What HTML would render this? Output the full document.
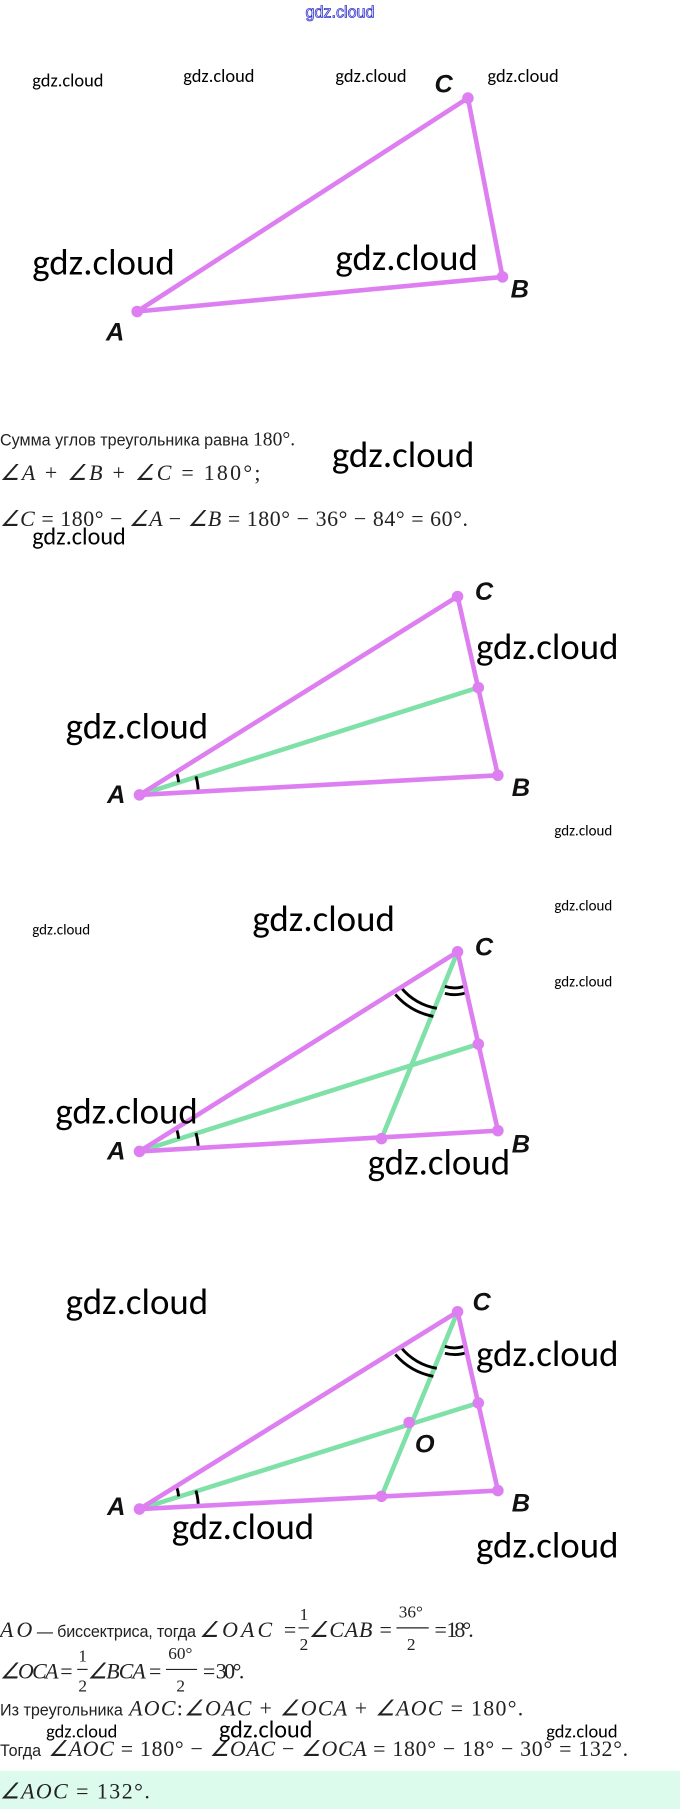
<!DOCTYPE html>
<html><head><meta charset="utf-8"><style>
html,body{margin:0;padding:0;background:#fff}
svg{display:block}
.w{font-family:"Carlito","Liberation Sans",sans-serif;fill:#000}
.m{font-family:"Liberation Serif",serif;font-style:italic;fill:#222}
.r{font-family:"Liberation Serif",serif;font-style:normal;fill:#222}
.t{font-family:"Liberation Sans",sans-serif;font-style:normal;fill:#222}
.L{font-family:"Liberation Sans",sans-serif;font-style:italic;font-weight:bold;fill:#111}
</style></head><body>
<svg width="680" height="1809" viewBox="0 0 590 1568" preserveAspectRatio="none" xmlns="http://www.w3.org/2000/svg">
<text x="295" y="15" text-anchor="middle" font-family="Liberation Sans,sans-serif" font-size="14" fill="none" stroke="#3333cc" stroke-width="0.7">gdz.cloud</text>
<g class="w" font-size="16">
<text x="28" y="75">gdz.cloud</text><text x="159" y="71">gdz.cloud</text><text x="291" y="71">gdz.cloud</text><text x="423" y="71">gdz.cloud</text>
</g>
<!-- triangle 1 -->
<g stroke="#dd7ff0" stroke-width="4" fill="none" stroke-linecap="round"><path d="M119 270 L406 85 L436 240 Z"/></g>
<g fill="#dd7ff0"><circle cx="119" cy="270" r="5"/><circle cx="406" cy="85" r="5"/><circle cx="436" cy="240" r="5"/></g>
<g class="L" font-size="22"><text x="377" y="80">C</text><text x="443" y="258">B</text><text x="92" y="295">A</text></g>
<g class="w" font-size="32"><text x="28" y="238">gdz.cloud</text><text x="291" y="234">gdz.cloud</text></g>
<!-- text 1 -->
<text class="t" x="0" y="386" font-size="14">Сумма углов треугольника равна <tspan class="r" font-size="17">180°.</tspan></text>
<text class="w" x="288" y="405" font-size="32">gdz.cloud</text>
<text class="m" x="0" y="416" font-size="19" textLength="226">∠A <tspan class="r">+</tspan> ∠B <tspan class="r">+</tspan> ∠C <tspan class="r">= 180°;</tspan></text>
<text class="m" x="0" y="456" font-size="19" textLength="406">∠C <tspan class="r">= 180° −</tspan> ∠A <tspan class="r">−</tspan> ∠B <tspan class="r">= 180° − 36° − 84° = 60°.</tspan></text>
<text class="w" x="28" y="472" font-size="21">gdz.cloud</text>
<!-- triangle 2 -->
<g stroke="#7fe0a8" stroke-width="4" fill="none"><path d="M121 689 L415 596"/></g>
<g stroke="#000" stroke-width="2.5" fill="none"><path d="M153 669 A35 35 0 0 1 155 678"/><path d="M170 673 A50 50 0 0 1 172 688"/></g>
<g stroke="#dd7ff0" stroke-width="4" fill="none" stroke-linecap="round"><path d="M121 689 L397 517 L432 672 Z"/></g>
<g fill="#dd7ff0"><circle cx="121" cy="689" r="5"/><circle cx="397" cy="517" r="5"/><circle cx="432" cy="672" r="5"/><circle cx="415" cy="596" r="5"/></g>
<g class="L" font-size="22"><text x="412" y="520">C</text><text x="444" y="690">B</text><text x="93" y="696">A</text></g>
<g class="w"><text x="413" y="571" font-size="32">gdz.cloud</text><text x="57" y="640" font-size="32">gdz.cloud</text><text x="481" y="724" font-size="13">gdz.cloud</text></g>
<!-- triangle 3 -->
<g stroke="#7fe0a8" stroke-width="4" fill="none"><path d="M121 998 L415 905"/><path d="M397 825 L331 987"/></g>
<g stroke="#000" stroke-width="2.5" fill="none"><path d="M153 978 A35 35 0 0 1 155 987"/><path d="M170 982 A50 50 0 0 1 172 997"/>
<path d="M348 856 A50 50 0 0 0 379 874"/><path d="M343 862 A58 58 0 0 0 376 881"/>
<path d="M386 855 A27 27 0 0 0 405 854"/><path d="M386 861 A33 33 0 0 0 406 860"/></g>
<g stroke="#dd7ff0" stroke-width="4" fill="none" stroke-linecap="round"><path d="M121 998 L397 825 L432 980 Z"/></g>
<g fill="#dd7ff0"><circle cx="121" cy="998" r="5"/><circle cx="397" cy="825" r="5"/><circle cx="432" cy="980" r="5"/><circle cx="415" cy="905" r="5"/><circle cx="331" cy="987" r="5"/></g>
<g class="L" font-size="22"><text x="412" y="828">C</text><text x="444" y="999">B</text><text x="93" y="1005">A</text></g>
<g class="w"><text x="28" y="810" font-size="13">gdz.cloud</text><text x="219" y="807" font-size="32">gdz.cloud</text><text x="481" y="789" font-size="13">gdz.cloud</text><text x="481" y="855" font-size="13">gdz.cloud</text><text x="48" y="974" font-size="32">gdz.cloud</text><text x="319" y="1018" font-size="32">gdz.cloud</text></g>
<!-- triangle 4 -->
<g stroke="#7fe0a8" stroke-width="4" fill="none"><path d="M121 1308 L415 1216"/><path d="M397 1137 L331 1297"/></g>
<g stroke="#000" stroke-width="2.5" fill="none"><path d="M153 1288 A35 35 0 0 1 155 1297"/><path d="M170 1292 A50 50 0 0 1 172 1307"/>
<path d="M348 1168 A50 50 0 0 0 379 1186"/><path d="M343 1174 A58 58 0 0 0 376 1193"/>
<path d="M386 1167 A27 27 0 0 0 405 1166"/><path d="M386 1173 A33 33 0 0 0 406 1172"/></g>
<g stroke="#dd7ff0" stroke-width="4" fill="none" stroke-linecap="round"><path d="M121 1308 L397 1137 L432 1292 Z"/></g>
<g fill="#dd7ff0"><circle cx="121" cy="1308" r="5"/><circle cx="397" cy="1137" r="5"/><circle cx="432" cy="1292" r="5"/><circle cx="415" cy="1216" r="5"/><circle cx="331" cy="1297" r="5"/><circle cx="355" cy="1233" r="5"/></g>
<g class="L" font-size="22"><text x="410" y="1136">C</text><text x="360" y="1259">O</text><text x="444" y="1310">B</text><text x="93" y="1313">A</text></g>
<g class="w" font-size="32"><text x="57" y="1139">gdz.cloud</text><text x="413" y="1184">gdz.cloud</text><text x="149" y="1334">gdz.cloud</text><text x="413" y="1350">gdz.cloud</text></g>
<!-- text 2 -->
<g font-size="19">
<text class="m" x="0" y="1419" textLength="28">AO</text>
<text class="t" x="32" y="1419" font-size="14" textLength="138">— биссектриса, тогда</text>
<text class="m" x="173" y="1419" textLength="84">∠OAC <tspan class="r">=</tspan></text>
<text class="r" x="260" y="1404" font-size="15">1</text><line x1="259" y1="1411" x2="268" y2="1411" stroke="#222" stroke-width="1"/><text class="r" x="260" y="1430" font-size="15">2</text>
<text class="m" x="268" y="1419" textLength="72">∠CAB <tspan class="r">=</tspan></text>
<text class="r" x="346" y="1402" font-size="15">36°</text><line x1="344" y1="1411" x2="372" y2="1411" stroke="#222" stroke-width="1"/><text class="r" x="353" y="1430" font-size="15">2</text>
<text class="r" x="377" y="1419" textLength="34">= 18°.</text>
<text class="m" x="0" y="1455" textLength="63">∠OCA <tspan class="r">=</tspan></text>
<text class="r" x="68" y="1440" font-size="15">1</text><line x1="67" y1="1447" x2="76" y2="1447" stroke="#222" stroke-width="1"/><text class="r" x="68" y="1466" font-size="15">2</text>
<text class="m" x="76" y="1455" textLength="64">∠BCA <tspan class="r">=</tspan></text>
<text class="r" x="146" y="1438" font-size="15">60°</text><line x1="144" y1="1447" x2="171" y2="1447" stroke="#222" stroke-width="1"/><text class="r" x="153" y="1466" font-size="15">2</text>
<text class="r" x="176" y="1455" textLength="36">= 30°.</text>
<text class="t" x="0" y="1487" font-size="14">Из треугольника</text>
<text class="m" x="112" y="1487" textLength="342">AOC<tspan class="r">:</tspan>∠OAC <tspan class="r">+</tspan> ∠OCA <tspan class="r">+</tspan> ∠AOC <tspan class="r">= 180°.</tspan></text>
<text class="t" x="0" y="1522" font-size="14">Тогда</text>
<text class="m" x="42" y="1522" textLength="503">∠AOC <tspan class="r">= 180° −</tspan> ∠OAC <tspan class="r">−</tspan> ∠OCA <tspan class="r">= 180° − 18° − 30° = 132°.</tspan></text>
</g>
<g class="w"><text x="40" y="1506" font-size="16">gdz.cloud</text><text x="190" y="1506" font-size="21">gdz.cloud</text><text x="474" y="1506" font-size="16">gdz.cloud</text></g>
<rect x="0" y="1535" width="590" height="33" fill="#ddfbec"/>
<text class="m" x="0" y="1559" font-size="19" textLength="130">∠AOC <tspan class="r">= 132°.</tspan></text>
</svg>
</body></html>
